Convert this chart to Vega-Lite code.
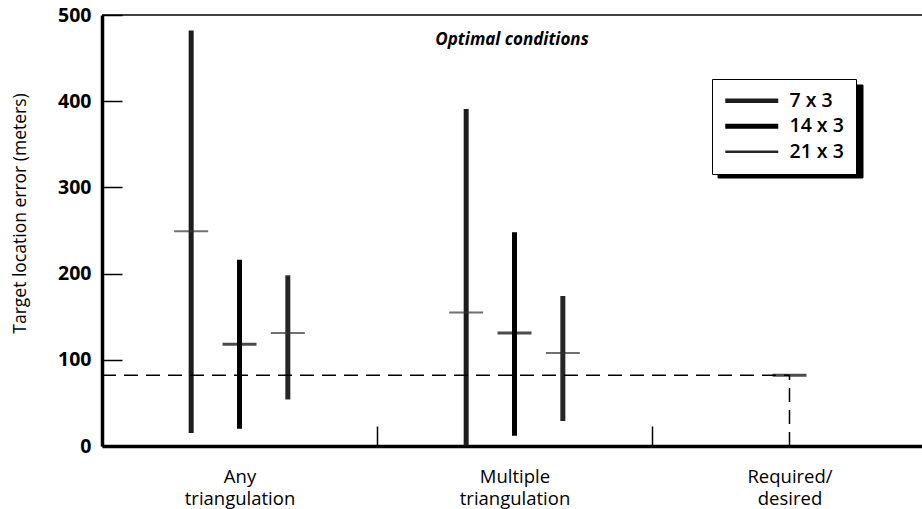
{
  "$schema": "https://vega.github.io/schema/vega-lite/v6.json",
  "width": 820,
  "height": 431,
  "autosize": {"type": "none"},
  "padding": {"left": 102, "top": 15, "right": 0, "bottom": 63},
  "config": {"view": {"stroke": null}, "font": "Open Sans"},
  "title": {"text": "Optimal conditions", "font": "Open Sans", "fontStyle": "italic", "fontWeight": "bold", "fontSize": 17, "offset": -44, "anchor": "middle", "color": "#000"},
  "datasets": {
    "bars": [
      {"condition": "Any triangulation", "config": "7 x 3", "low": 15, "high": 482, "mid": 249},
      {"condition": "Any triangulation", "config": "14 x 3", "low": 20, "high": 216, "mid": 118},
      {"condition": "Any triangulation", "config": "21 x 3", "low": 54, "high": 198, "mid": 131},
      {"condition": "Multiple triangulation", "config": "7 x 3", "low": 0, "high": 391, "mid": 155},
      {"condition": "Multiple triangulation", "config": "14 x 3", "low": 12, "high": 248, "mid": 131},
      {"condition": "Multiple triangulation", "config": "21 x 3", "low": 29, "high": 174, "mid": 108}
    ],
    "required": [
      {"condition": "Required/desired", "from": "Any triangulation", "value": 82, "base": 0}
    ]
  },
  "resolve": {"scale": {"color": "independent"}, "legend": {"color": "independent"}},
  "layer": [
    {
      "data": {"name": "bars"},
      "mark": {"type": "rule"},
      "encoding": {
        "x": {
          "field": "condition", "type": "nominal", "title": null,
          "scale": {"domain": ["Any triangulation", "Multiple triangulation", "Required/desired"], "paddingInner": 0, "paddingOuter": 0, "range": [0, 825]},
          "axis": {
            "labelAngle": 0, "labelAlign": "center", "labelFont": "Open Sans", "labelFontSize": 18.5, "labelColor": "#000", "labelLineHeight": 22,
            "labelExpr": "datum.label == 'Required/desired' ? ['Required/', 'desired'] : split(datum.label, ' ')",
            "labelBaseline": "top", "labelPadding": 41,
            "tickBand": "extent", "tickSize": -20, "tickWidth": 1.5, "tickColor": "#000",
            "domainWidth": 3.5, "domainColor": "#000", "grid": false
          }
        },
        "xOffset": {"field": "config", "type": "nominal", "scale": {"domain": ["7 x 3", "14 x 3", "21 x 3"], "paddingInner": 0, "paddingOuter": 0, "range": [65, 210]}},
        "y": {
          "field": "low", "type": "quantitative", "title": "Target location error (meters)",
          "scale": {"domain": [0, 500], "nice": false},
          "axis": {
            "values": [0, 100, 200, 300, 400, 500], "grid": false,
            "tickSize": -20, "tickWidth": 1.5, "tickColor": "#000", "labelPadding": 31,
            "labelFont": "Open Sans", "labelFontSize": 19.5, "labelFontWeight": "bold", "labelColor": "#000",
            "domainWidth": 3.5, "domainColor": "#000",
            "titleFont": "Open Sans", "titleFontSize": 17.5, "titleFontWeight": "normal", "titleColor": "#000",
            "titleX": -82, "titleY": 198, "titleAngle": -90, "titleBaseline": "middle", "titleAlign": "center"
          }
        },
        "y2": {"field": "high"},
        "color": {
          "field": "config", "type": "nominal",
          "scale": {"domain": ["7 x 3", "14 x 3", "21 x 3"], "range": ["#1c1c1c", "#000000", "#262626"]},
          "legend": {
            "title": null, "orient": "none", "legendX": 610, "legendY": 64, "zindex": 1,
            "symbolType": "M-3,0H3", "symbolSize": 312, "symbolOffset": 18,
            "labelFont": "Open Sans", "labelFontSize": 19.5, "labelFontWeight": 600, "labelColor": "#000", "labelOffset": 28,
            "rowPadding": 4.5, "padding": 12,
            "strokeColor": "#000", "fillColor": "#fff",
            "encode": {
              "symbols": {
                "update": {
                  "strokeWidth": {"signal": "datum.value === '21 x 3' ? 2.5 : (datum.value === '7 x 3' ? 4.5 : 5)"},
                  "stroke": {"signal": "datum.value === '14 x 3' ? '#000000' : '#555555'"}
                }
              }
            }
          }
        },
        "strokeWidth": {
          "field": "config", "type": "nominal",
          "scale": {"domain": ["7 x 3", "14 x 3", "21 x 3"], "range": [5, 5, 4]},
          "legend": null
        }
      }
    },
    {
      "data": {"name": "bars"},
      "transform": [{"filter": "datum.config != '14 x 3'"}],
      "mark": {"type": "tick", "thickness": 2, "size": 34, "color": "#333333"},
      "encoding": {
        "x": {"field": "condition", "type": "nominal"},
        "xOffset": {"field": "config", "type": "nominal"},
        "y": {"field": "mid", "type": "quantitative"}
      }
    },
    {
      "data": {"name": "bars"},
      "transform": [{"filter": "datum.config == '14 x 3'"}],
      "mark": {"type": "tick", "thickness": 3, "size": 34, "color": "#000000"},
      "encoding": {
        "x": {"field": "condition", "type": "nominal"},
        "xOffset": {"field": "config", "type": "nominal"},
        "y": {"field": "mid", "type": "quantitative"}
      }
    },
    {
      "data": {"name": "required"},
      "mark": {"type": "rule", "strokeDash": [14, 8], "strokeWidth": 1.5, "color": "#000"},
      "encoding": {
        "x": {"field": "from", "type": "nominal", "bandPosition": 0},
        "x2": {"field": "condition", "bandPosition": 0.5},
        "y": {"field": "value", "type": "quantitative"}
      }
    },
    {
      "data": {"name": "required"},
      "mark": {"type": "rule", "strokeDash": [14, 8], "strokeWidth": 1.5, "color": "#000"},
      "encoding": {
        "x": {"field": "condition", "type": "nominal"},
        "y": {"field": "base", "type": "quantitative"},
        "y2": {"field": "value"}
      }
    },
    {
      "data": {"name": "required"},
      "mark": {"type": "tick", "thickness": 3, "size": 34, "color": "#000"},
      "encoding": {
        "x": {"field": "condition", "type": "nominal"},
        "y": {"field": "value", "type": "quantitative"}
      }
    },
    {
      "data": {"name": "required"},
      "mark": {"type": "rule", "strokeWidth": 1.5, "color": "#000"},
      "encoding": {
        "y": {"datum": 500, "type": "quantitative"}
      }
    },
    {
      "data": {"name": "bars"},
      "mark": {"type": "rule", "opacity": 0},
      "encoding": {
        "x": {"field": "condition", "type": "nominal"},
        "xOffset": {"field": "config", "type": "nominal"},
        "y": {"field": "low", "type": "quantitative"},
        "y2": {"field": "high"},
        "color": {
          "field": "config", "type": "nominal",
          "scale": {"domain": ["7 x 3", "14 x 3", "21 x 3"], "range": ["#000", "#000", "#000"]},
          "legend": {
            "title": null, "orient": "none", "legendX": 615.5, "legendY": 69.5, "zindex": 0,
            "symbolType": "M-3,0H3", "symbolSize": 312, "symbolOffset": 18,
            "labelExpr": "''",
            "labelFont": "Open Sans", "labelFontSize": 19.5, "labelFontWeight": 600, "labelColor": "#000", "labelOffset": 83,
            "rowPadding": 4.5, "padding": 12,
            "strokeColor": "#000", "fillColor": "#000"
          }
        }
      }
    }
  ]
}
